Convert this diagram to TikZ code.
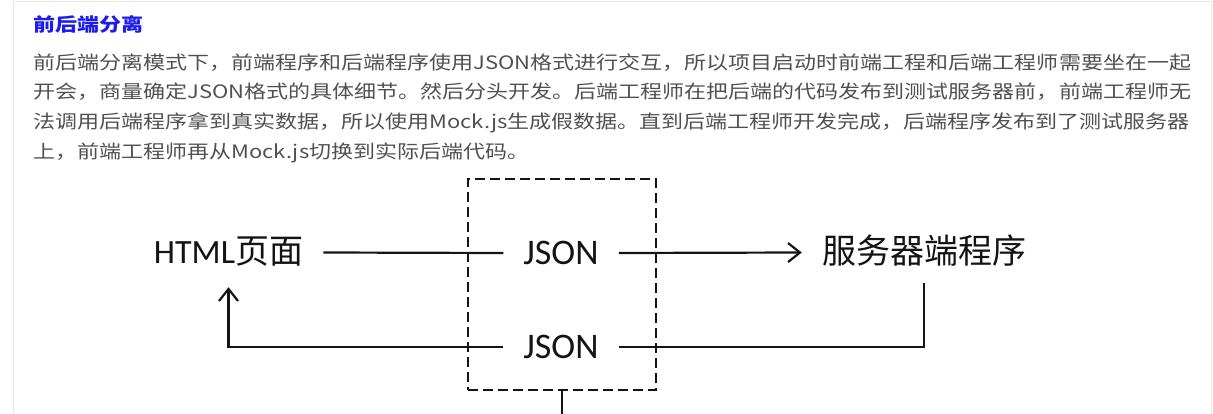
\documentclass[tikz,border=0pt]{standalone}
\usepackage{fontspec}
\usepackage{xcolor}
\usepackage{tikz}
\usetikzlibrary{positioning,arrows.meta,calc}
\newfontfamily\cjk[FakeStretch=1.19]{Noto Sans CJK SC}
\newfontfamily\cjkdiag{Noto Sans CJK SC}
\newfontfamily\latdiag{Carlito}
\definecolor{titleblue}{RGB}{28,28,238}
\definecolor{bodygray}{RGB}{80,80,80}
\definecolor{framegray}{RGB}{232,232,232}
\definecolor{ink}{RGB}{20,20,20}
\tikzset{
  title/.style={anchor=west,inner sep=0pt,text height=0.8em,text depth=0.1em,
    text=titleblue,font=\cjk\bfseries\fontsize{18.5}{18.5}\selectfont},
  bodyline/.style={anchor=west,inner sep=0pt,text height=0.8em,text depth=0.1em,
    text=bodygray,font=\cjk\fontsize{18.5}{18.5}\selectfont},
  endpoint/.style={inner xsep=20pt,inner ysep=15pt,text height=27pt,text depth=4pt,
    text=ink,font=\cjkdiag\fontsize{34}{34}\selectfont},
  jsontext/.style={inner xsep=20pt,inner ysep=4pt,text=ink,
    font=\latdiag\fontsize{36}{36}\selectfont},
  jsonbox/.style={draw=ink,line width=2.2pt,dash pattern=on 10pt off 5pt,
    minimum width=188pt,minimum height=211pt,inner sep=0pt},
  link/.style={draw=ink,line width=2.2pt},
  tip/.style={-{Straight Barb[length=12pt,width=19pt]}}
}
\begin{document}
\begin{tikzpicture}[x=1pt,y=-1pt]
  \useasboundingbox (0,0) rectangle (1213,414);
  \draw[framegray,line width=1pt] (13,420) -- (13,2) -- (1211,2) -- (1211,420);
  % text of the page
  \node[title] (head) at (33,28) {前后端分离};
  \node[bodyline] (line1) at (33,66) {前后端分离模式下，前端程序和后端程序使用JSON格式进行交互，所以项目启动时前端工程和后端工程师需要坐在一起};
  \node[bodyline] (line2) at (33,95.5) {开会，商量确定JSON格式的具体细节。然后分头开发。后端工程师在把后端的代码发布到测试服务器前，前端工程师无};
  \node[bodyline] (line3) at (33,125) {法调用后端程序拿到真实数据，所以使用Mock.js生成假数据。直到后端工程师开发完成，后端程序发布到了测试服务器};
  \node[bodyline] (line4) at (33,155) {上，前端工程师再从Mock.js切换到实际后端代码。};
  % diagram
  \node[jsonbox] (box) at (562,284.5) {};
  \coordinate (stub) at (562,414);
  \node[endpoint] (html) at (228.5,252.5) {{\latdiag HTML}页面};
  \node[endpoint] (server) at (924,252.5) {服务器端程序};
  \node[jsontext] (json1) at (561,253) {JSON};
  \node[jsontext] (json2) at (561,347) {JSON};
  \draw[link] (html.east) -- (json1.west);
  \draw[link,tip] (json1.east) -- (server.west);
  \draw[link] (server.south) |- (json2.east);
  \draw[link,tip] (json2.west) -| ([yshift=-4pt]html.south);
  \draw[link] (box.south) -- (stub);
\end{tikzpicture}
\end{document}
